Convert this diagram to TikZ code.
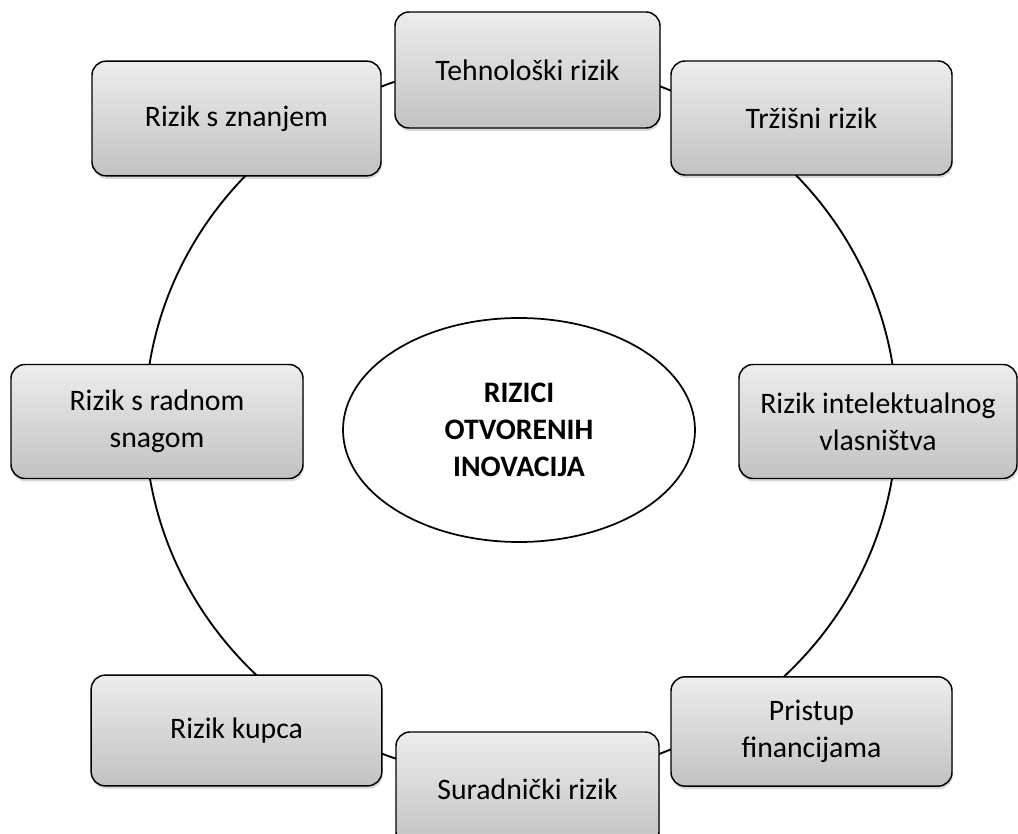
\documentclass[tikz,border=0pt]{standalone}
\usepackage{fontspec}
\setmainfont{Carlito}
\usetikzlibrary{shadows,shapes.geometric}
\definecolor{boxtop}{HTML}{EDEDED}
\definecolor{boxbot}{HTML}{C2C2C2}
\tikzset{
  riskbox/.style={draw=black, line width=1.1pt, rounded corners=10.5pt,
    top color=boxtop, bottom color=boxbot, align=center, inner sep=2pt,
    font=\fontsize{22.3}{27.5}\selectfont,
    drop shadow={shadow xshift=0.6pt, shadow yshift=-2.2pt, opacity=0.15, fill=black}},
  ring/.style={draw=black, line width=1.4pt},
  core/.style={draw=black, line width=1.3pt, fill=white, ellipse, align=center,
    font=\fontsize{22.3}{27.5}\bfseries\selectfont}
}
\begin{document}
\begin{tikzpicture}[x=0.75pt,y=-0.75pt]
\useasboundingbox (0,0) rectangle (1018,834);
\clip (0,0) rectangle (1018,834);
\fill[white] (0,0) rectangle (1018,834);
\coordinate (rc) at (521,420);
\draw[ring] (rc) ellipse [x radius=376, y radius=359];
\node[riskbox, minimum width=198.75pt, minimum height=87pt] (teh) at (527.5,70) {Tehnološki rizik};
\node[riskbox, minimum width=210.75pt, minimum height=85.5pt] (trz) at (811.5,118) {Tržišni rizik};
\node[riskbox, minimum width=216.75pt, minimum height=86pt] (zna) at (236.5,118.5) {Rizik s znanjem};
\node[riskbox, minimum width=219pt, minimum height=85.5pt] (rad) at (157,421.5) {Rizik s radnom\\snagom};
\node[riskbox, minimum width=208.5pt, minimum height=85.5pt] (ipr) at (878,421.5) {Rizik intelektualnog\\vlasništva};
\node[riskbox, minimum width=218pt, minimum height=83pt] (kup) at (236.5,730.5) {Rizik kupca};
\node[riskbox, minimum width=210.75pt, minimum height=82pt] (fin) at (811.5,731.5) {Pristup\\financijama};
\node[riskbox, minimum width=197.25pt, minimum height=85.5pt] (sur) at (527.5,789) {Suradnički rizik};
\node[core, minimum width=264pt, minimum height=168pt, inner sep=0pt] (cen) at (519,430) {\raisebox{-4pt}{\parbox{125pt}{\centering RIZICI\\OTVORENIH\\INOVACIJA}}};
\end{tikzpicture}
\end{document}
